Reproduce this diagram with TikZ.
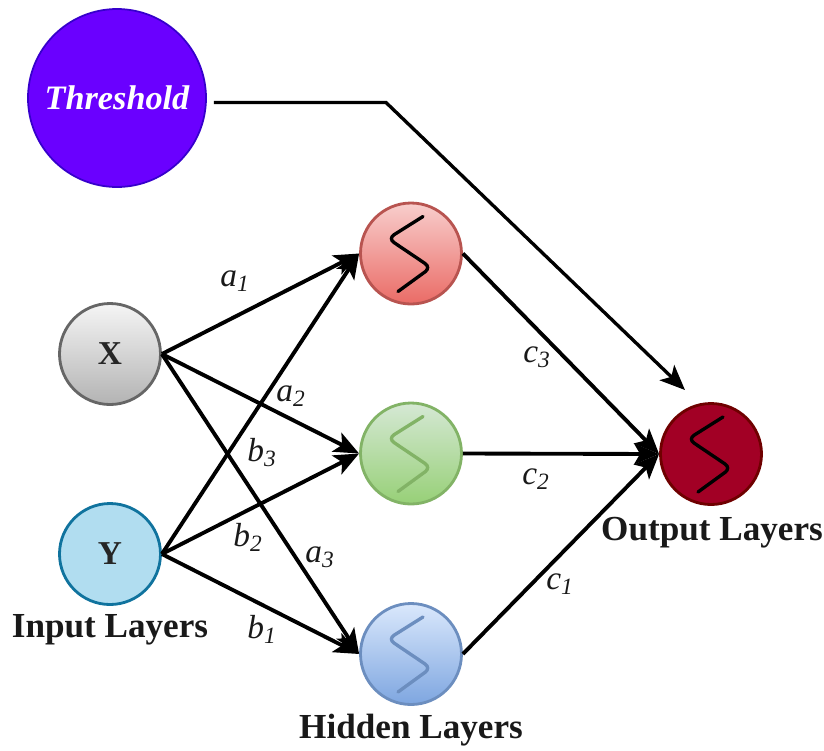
\documentclass[tikz,border=0pt]{standalone}
\usepackage{fontspec}
\setmainfont{Liberation Serif}
\usetikzlibrary{arrows.meta, calc}
\definecolor{thfill}{HTML}{6A00FF}
\definecolor{thline}{HTML}{3700CC}
\definecolor{redtop}{HTML}{F8CECC}
\definecolor{redbot}{HTML}{EA6B66}
\definecolor{redline}{HTML}{B85450}
\definecolor{greentop}{HTML}{D5E8D4}
\definecolor{greenbot}{HTML}{97D077}
\definecolor{greenline}{HTML}{82B366}
\definecolor{bluetop}{HTML}{DAE8FC}
\definecolor{bluebot}{HTML}{7EA6E0}
\definecolor{blueline}{HTML}{6C8EBF}
\definecolor{greytop}{HTML}{F5F5F5}
\definecolor{greybot}{HTML}{B3B3B3}
\definecolor{greyline}{HTML}{666666}
\definecolor{yfill}{HTML}{B1DDF0}
\definecolor{yline}{HTML}{10739E}
\definecolor{outfill}{HTML}{A20025}
\definecolor{outline}{HTML}{6F0000}
\tikzset{
  neuron/.style={circle, line width=1.6pt, minimum size=2.02cm, inner sep=0pt},
  link/.style={line width=2.2pt, -{Stealth[length=0.5cm, width=0.42cm, inset=0.12cm]}},
  layerlabel/.style={font=\fontsize{20}{22}\selectfont\bfseries, text=black!90},
  weight/.style={font=\fontsize{19}{22}\selectfont\itshape, text=black!90},
  squiggle/.style={line width=1.9pt, line cap=round, rounded corners=4pt}
}
\begin{document}
\begin{tikzpicture}
  \useasboundingbox (0,0) rectangle (16.48,-15);
  % threshold and inputs
  \node[circle, draw=thline, fill=thfill, line width=1pt, minimum size=3.56cm, inner sep=0pt,
    font=\fontsize{19.5}{22}\selectfont\bfseries\itshape, text=white] (threshold) at (2.34,-1.96) {Threshold};
  \node[neuron, draw=greyline, top color=greytop, bottom color=greybot,
    font=\fontsize{19}{22}\selectfont\bfseries, text=black!85] (X) at (2.2,-7.08) {X};
  \node[neuron, draw=yline, fill=yfill,
    font=\fontsize{19}{22}\selectfont\bfseries, text=black!85] (Y) at (2.2,-11.08) {Y};
  % hidden layer
  \node[neuron, draw=redline, top color=redtop, bottom color=redbot] (h1) at (8.22,-5.07) {};
  \node[neuron, draw=greenline, top color=greentop, bottom color=greenbot] (h2) at (8.22,-9.07) {};
  \node[neuron, draw=blueline, top color=bluetop, bottom color=bluebot] (h3) at (8.22,-13.08) {};
  % output
  \node[neuron, draw=outline, fill=outfill] (out) at (14.22,-9.08) {};
  % the s-curves
  \foreach \n/\c in {h1/black, h2/greenline, h3/blueline, out/black} {
    \draw[squiggle, \c] ($(\n)+(0.24,0.74)$) -- ($(\n)+(-0.46,0.3)$)
      -- ($(\n)+(0.4,-0.28)$) -- ($(\n)+(-0.26,-0.76)$);
  }
  % inputs to hidden
  \foreach \a in {X,Y} {
    \foreach \b in {h1,h2,h3} {
      \draw[link] (\a.east) -- (\b.west);
    }
  }
  % hidden to output
  \draw[link] (h1.east) -- (out.west);
  \draw[link] (h2.east) -- (out.west);
  \draw[link] (h3.east) -- (out.west);
  % threshold line
  \coordinate (thbend) at (7.72,-2.05);
  \coordinate (thend) at (13.7,-7.8);
  \draw[link, line width=1.9pt, shorten <=0.14cm] (threshold.east |- thbend) -- (thbend) -- (thend);
  % weights
  \node[weight] (a1) at (4.7,-5.62) {a\textsubscript{1}};
  \node[weight] (a2) at (5.82,-7.92) {a\textsubscript{2}};
  \node[weight] (a3) at (6.4,-11.14) {a\textsubscript{3}};
  \node[weight] (b1) at (5.24,-12.58) {b\textsubscript{1}};
  \node[weight] (b2) at (4.96,-10.74) {b\textsubscript{2}};
  \node[weight] (b3) at (5.24,-9.06) {b\textsubscript{3}};
  \node[weight] (c1) at (11.2,-11.68) {c\textsubscript{1}};
  \node[weight] (c2) at (10.72,-9.58) {c\textsubscript{2}};
  \node[weight] (c3) at (10.74,-7.14) {c\textsubscript{3}};
  % layer names
  \node[layerlabel] (inlabel) at (2.2,-12.6) {Input Layers};
  \node[layerlabel] (hidlabel) at (8.22,-14.6) {Hidden Layers};
  \node[layerlabel] (outlabel) at (14.24,-10.66) {Output Layers};
\end{tikzpicture}
\end{document}
